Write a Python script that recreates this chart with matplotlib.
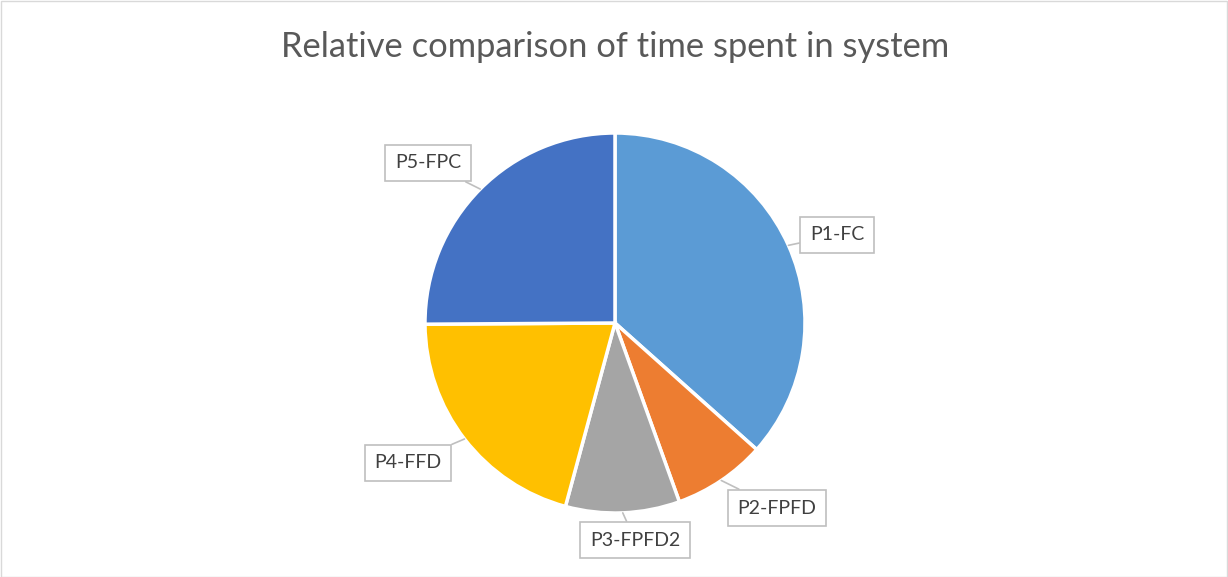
import numpy as np
import matplotlib
matplotlib.use("Agg")
import matplotlib.pyplot as plt
from matplotlib.patches import Rectangle

labels = ["P1-FC", "P2-FPFD", "P3-FPFD2", "P4-FFD", "P5-FPC"]
shares = [36.6, 7.9, 9.7, 20.7, 25.1]
colors = ["#5B9BD5", "#ED7D31", "#A5A5A5", "#FFC000", "#4472C4"]
# label box centres (pixel coords, y up)
label_pos = [(837, 342), (777, 69), (635, 37), (408, 114), (428, 414)]

W, H = 1228, 577
fig = plt.figure(figsize=(W / 100, H / 100), dpi=100)
ax = fig.add_axes([0, 0, 1, 1])

cx, cy, r = 615, 254, 190
wedges, _ = ax.pie(shares, colors=colors, startangle=90, counterclock=False,
                   center=(cx, cy), radius=r, explode=[0.012] * 5,
                   wedgeprops=dict(edgecolor="white", linewidth=2.5),
                   frame=True)
ax.set_xlim(0, W)
ax.set_ylim(0, H)
ax.axis("off")

for w, lab, pos in zip(wedges, labels, label_pos):
    mid = np.deg2rad((w.theta1 + w.theta2) / 2)
    ex, ey = w.center
    tip = (ex + r * np.cos(mid), ey + r * np.sin(mid))
    ax.annotate(lab, xy=tip, xytext=pos, ha="center", va="center",
                fontsize=14, color="#404040", family="Lato",
                bbox=dict(boxstyle="square,pad=0.5", fc="white", ec="#BFBFBF", lw=1.2),
                arrowprops=dict(arrowstyle="-", color="#BFBFBF", lw=1.2,
                                shrinkA=0, shrinkB=0))

ax.text(615, 530, "Relative comparison of time spent in system", ha="center",
        va="center", fontsize=24.8, color="#595959", family="Lato")

fig.patches.append(Rectangle((0.5 / W, 0.5 / H), 1 - 1.5 / W, 1 - 1.5 / H,
                             transform=fig.transFigure, fill=False,
                             ec="#D9D9D9", lw=1))

fig.savefig("out.png", dpi=100)
